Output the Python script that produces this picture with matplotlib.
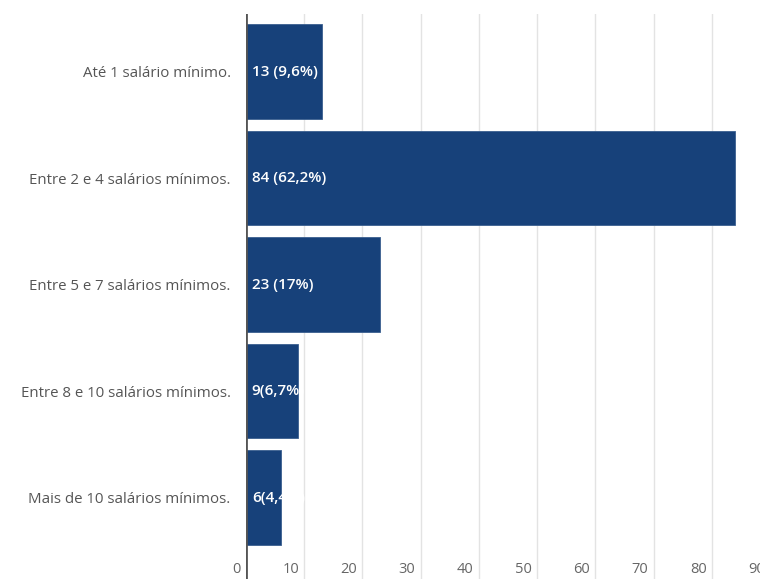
import matplotlib.pyplot as plt
import matplotlib.transforms as mtransforms

categorias = ['Até 1 salário mínimo.', 'Entre 2 e 4 salários mínimos.',
              'Entre 5 e 7 salários mínimos.', 'Entre 8 e 10 salários mínimos.',
              'Mais de 10 salários mínimos.']
valores = [13, 84, 23, 9, 6]
rotulos = ['13 (9,6%)', '84 (62,2%)', '23 (17%)', '9(6,7%)', '6(4,4%)']
ticks_x = [0, 10, 20, 30, 40, 50, 60, 70, 80, 90]

plt.rcParams['font.family'] = ['Open Sans', 'DejaVu Sans']

fig = plt.figure(figsize=(7.6, 5.79), dpi=100)
ax = fig.add_axes([246 / 760, 0, 524 / 760, 1 - 14 / 579])

pos = list(range(len(valores)))
barras = ax.barh(pos, valores, height=0.89, color='#17417a', edgecolor='#3a5f8f',
                 linewidth=0.6, zorder=3)
ax.set_xlim(0, 90)
ax.set_ylim(4.765, -0.54)

# grade vertical
for t in ticks_x[1:]:
    ax.axvline(t, color='#e3e3e3', linewidth=1, zorder=1)
ax.axvline(0, color='#555555', linewidth=2, zorder=4)

for s in ax.spines.values():
    s.set_visible(False)
ax.set_xticks([])
ax.set_yticks(pos)
ax.set_yticklabels(categorias, fontsize=10.8, color='#555555')
ax.tick_params(axis='y', length=0, pad=11)

# rotulos do eixo x dentro da area
trans = mtransforms.blended_transform_factory(ax.transData, ax.transAxes)
for t in ticks_x:
    ax.text(t - 0.9, 0.003, str(t), transform=trans, ha='right', va='bottom',
            fontsize=10.5, color='#666666')

# rotulos dentro das barras
for b, r in zip(barras, rotulos):
    txt = ax.text(1.0, b.get_y() + b.get_height() / 2, r, color='white',
                  fontsize=11, fontweight='semibold', ha='left', va='center', zorder=5)
    txt.set_clip_path(b)

fig.savefig('out.png', dpi=100)
